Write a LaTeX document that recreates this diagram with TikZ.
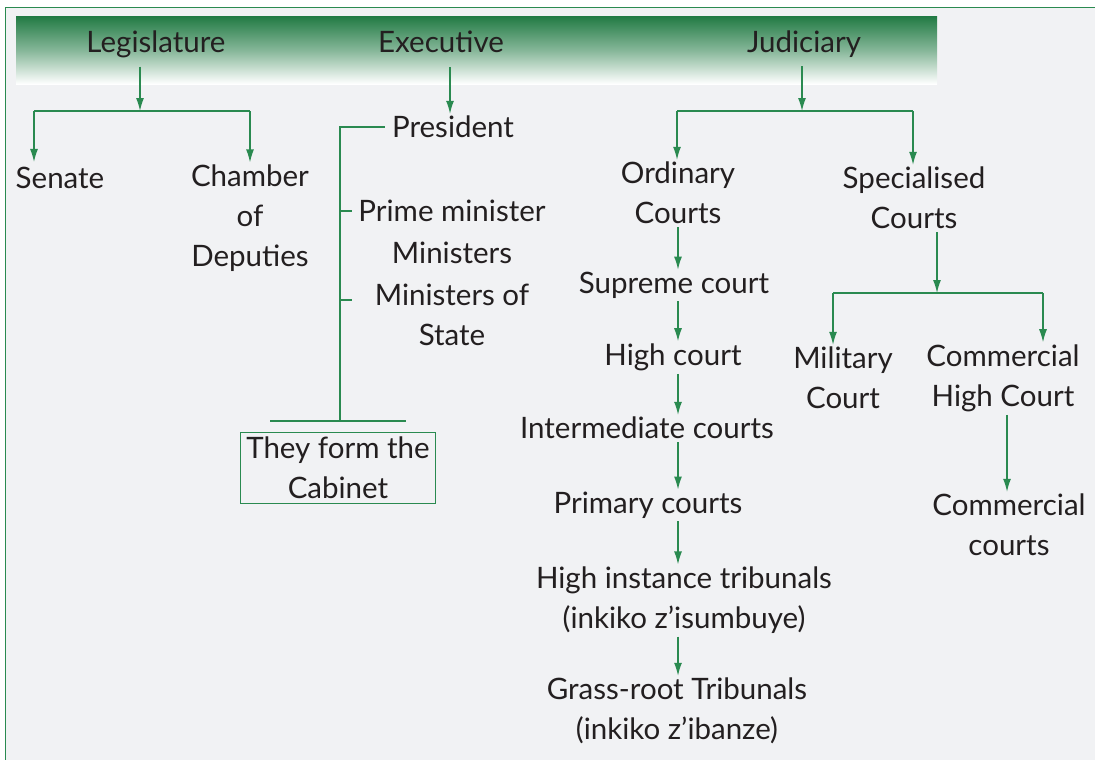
\documentclass[tikz,border=0pt]{standalone}
\usepackage{fontspec}
\setmainfont{Lato}
\usetikzlibrary{arrows.meta,positioning}
\definecolor{framegreen}{RGB}{42,138,80}
\definecolor{bandgreen}{RGB}{36,124,70}
\definecolor{paper}{RGB}{241,242,244}
\definecolor{ink}{RGB}{35,31,32}

\begin{document}
\begin{tikzpicture}[x=1pt,y=-1pt,
    txt/.style={text=ink,font=\fontsize{29.5}{40}\selectfont,align=center,inner sep=0pt},
    link/.style={draw=framegreen,line width=1.3pt},
    arr/.style={link,-{Latex[length=13pt,width=8pt]},shorten <=3pt,shorten >=2pt}]
  \useasboundingbox (0,0) rectangle (1095,760);
  \fill[white] (0,0) rectangle (1095,760);
  \fill[paper] (5,8) rectangle (1095,760);
  \draw[framegreen,line width=1pt] (1100,8) -- (5,8) -- (5,770);
  \shade[top color=bandgreen,bottom color=white,middle color=bandgreen!55!white] (16,17) rectangle (937,84);

  % heads
  \node[txt,anchor=base] (leg) at (156,53) {Legislature};
  \node[txt,anchor=base] (exe) at (441,53) {Executive};
  \node[txt,anchor=base] (jud) at (804,53) {Judiciary};

  % legislature
  \node[txt] (senate)  at (60,178)  {Senate};
  \node[txt] (chamber) at (250,218) {Chamber\\of\\Deputies};
  \coordinate (legfork) at (140,111);
  \coordinate (legL) at (34,111);
  \coordinate (legR) at (250,111);
  \draw[arr,shorten <=8pt,shorten >=0pt] (leg.south -| legfork) -- (legfork);
  \draw[link] (legL) -- (legR);
  \draw[arr,shorten <=0pt,shorten >=5pt] (legL) -- (legL |- senate.north);
  \draw[arr,shorten <=0pt] (legR) -- (chamber.north);

  % executive
  \node[txt] (pres) at (453,127) {President};
  \node[txt] (pm)   at (452,211) {Prime minister};
  \node[txt] (min)  at (452,253) {Ministers};
  \node[txt] (mos)  at (452,315) {Ministers of\\State};
  \node[txt,draw=framegreen,line width=1pt,minimum width=195pt,minimum height=71pt] (cab) at (338,468) {They form the\\Cabinet};
  \coordinate (exedrop) at (450,0);
  \coordinate (spine) at (340,127);
  \coordinate (spinebot) at (340,421);
  \coordinate (tickB) at (340,300);
  \coordinate (capL) at (270,421);
  \coordinate (capR) at (406,421);
  \draw[arr,shorten <=14pt] (exedrop |- exe.south) -- (exedrop |- pres.north);
  \draw[link,shorten <=7pt] (pres.west) -- (spine) -- (spinebot);
  \draw[link] (spine |- pm) -- ++(12,0);
  \draw[link] (tickB) -- ++(12,0);
  \draw[link] (capL) -- (capR);

  % judiciary
  \node[txt] (ord)   at (678,193) {Ordinary\\Courts};
  \node[txt] (spec)  at (914,198) {Specialised\\Courts};
  \node[txt] (sup)   at (674,285) {Supreme court};
  \node[txt] (high)  at (673,357) {High court};
  \node[txt] (inter) at (647,428) {Intermediate courts};
  \node[txt] (prim)  at (648,505) {Primary courts};
  \node[txt] (hit)   at (684,600) {High instance tribunals\\(inkiko z’isumbuye)};
  \node[txt] (grt)   at (677,711) {Grass-root Tribunals\\(inkiko z’ibanze)};
  \node[txt] (mil)   at (843,378) {Military\\Court};
  \node[txt] (chc)   at (1003,378) {Commercial\\High Court};
  \node[txt] (cc)    at (1009,525) {Commercial\\courts};
  \coordinate (judfork) at (802,111);
  \coordinate (judL) at (677,111);
  \coordinate (judR) at (913,111);
  \coordinate (chainx) at (678,0);
  \coordinate (specfork) at (937,293);
  \coordinate (specL) at (833,293);
  \coordinate (specR) at (1043,293);
  \coordinate (comdrop) at (1007,0);
  \draw[arr,shorten <=8pt,shorten >=0pt] (jud.south -| judfork) -- (judfork);
  \draw[link] (judL) -- (judR);
  \draw[arr,shorten <=0pt] (judL) -- (judL |- ord.north);
  \draw[arr,shorten <=0pt] (judR) -- (judR |- spec.north);
  \foreach \a/\b in {ord/sup,sup/high,high/inter,inter/prim,prim/hit,hit/grt}
    \draw[arr] (chainx |- \a.south) -- (chainx |- \b.north);
  \draw[arr,shorten >=0pt] (spec.south -| specfork) -- (specfork);
  \draw[link] (specL) -- (specR);
  \draw[arr,shorten <=0pt] (specL) -- (specL |- mil.north);
  \draw[arr,shorten <=0pt] (specR) -- (specR |- chc.north);
  \draw[arr] (comdrop |- chc.south) -- (comdrop |- cc.north);
\end{tikzpicture}
\end{document}
